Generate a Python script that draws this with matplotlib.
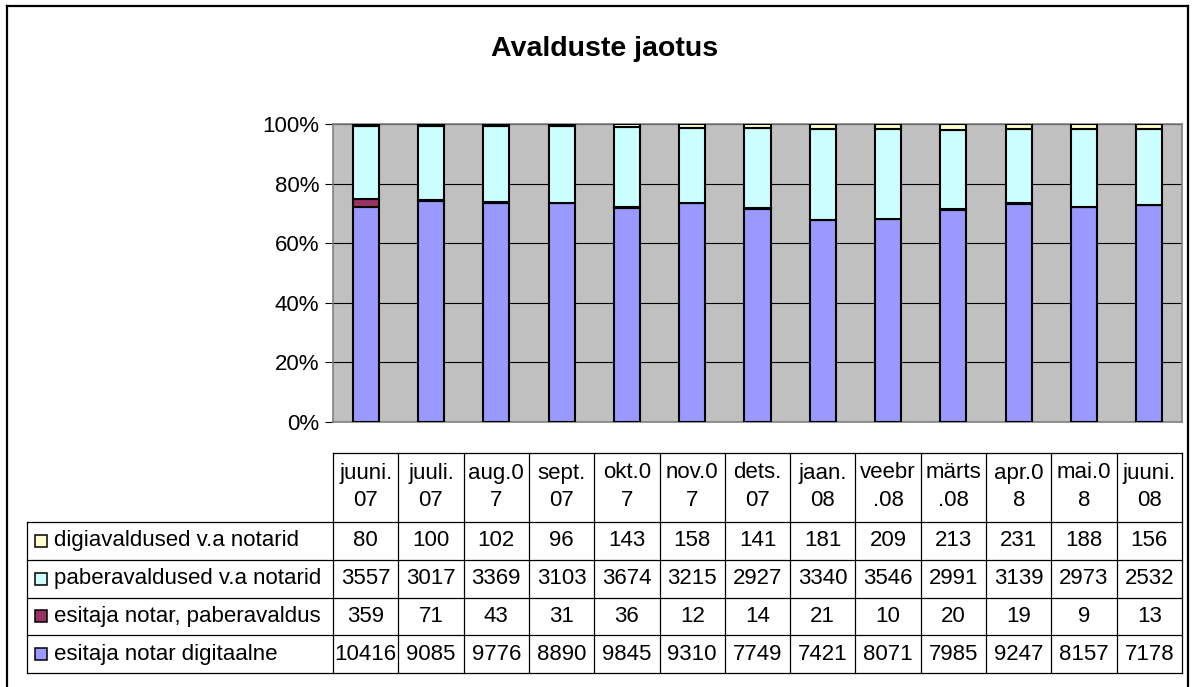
import matplotlib
matplotlib.use("Agg")
import matplotlib.pyplot as plt
from matplotlib.transforms import blended_transform_factory
from matplotlib.patches import Rectangle
import numpy as np

plt.rcParams['font.family'] = ['Liberation Sans', 'DejaVu Sans']

categories = ["juuni.\n07", "juuli.\n07", "aug.0\n7", "sept.\n07", "okt.0\n7", "nov.0\n7",
              "dets.\n07", "jaan.\n08", "veebr\n.08", "märts\n.08", "apr.0\n8", "mai.0\n8", "juuni.\n08"]

series_names = ["digiavaldused v.a notarid", "paberavaldused v.a notarid",
                "esitaja notar, paberavaldus", "esitaja notar digitaalne"]
digi = [80, 100, 102, 96, 143, 158, 141, 181, 209, 213, 231, 188, 156]
paber = [3557, 3017, 3369, 3103, 3674, 3215, 2927, 3340, 3546, 2991, 3139, 2973, 2532]
notar_paber = [359, 71, 43, 31, 36, 12, 14, 21, 10, 20, 19, 9, 13]
notar_digi = [10416, 9085, 9776, 8890, 9845, 9310, 7749, 7421, 8071, 7985, 9247, 8157, 7178]
colors = ["#FFFFCC", "#CCFFFF", "#993366", "#9999FF"]
title = "Avalduste jaotus"

W, H = 1196, 687
fig = plt.figure(figsize=(W / 100, H / 100), dpi=100)

# overlay axes in pixel coordinates
ov = fig.add_axes([0, 0, 1, 1])
ov.set_xlim(0, W)
ov.set_ylim(H, 0)
ov.axis("off")
ov.set_zorder(-1)

# plot area
L, R, T, B = 333, 1182, 124, 422
ax = fig.add_axes([L / W, 1 - B / H, (R - L) / W, (B - T) / H])
ax.set_facecolor("#C0C0C0")

series = [notar_digi, notar_paber, paber, digi]
scol = [colors[3], colors[2], colors[1], colors[0]]
arr = np.array(series, dtype=float)
tot = arr.sum(axis=0)
pct = arr / tot * 100
x = np.arange(len(categories))
bottom = np.zeros(len(categories))
for vals, c in zip(pct, scol):
    ax.bar(x, vals, 0.4, bottom=bottom, color=c, edgecolor="black", linewidth=1.5, zorder=3)
    bottom += vals

ax.set_xlim(-0.5, len(categories) - 0.5)
ax.set_ylim(0, 100)
ax.set_yticks(range(0, 101, 20))
ax.set_yticklabels([f"{v}%" for v in range(0, 101, 20)], fontsize=16)
ax.set_xticks([])
ax.yaxis.grid(True, color="black", linewidth=0.8, zorder=0)
ax.set_axisbelow(True)
ax.tick_params(axis="y", length=6, width=0.8, color="black", pad=4)
for s in ["top", "right", "bottom", "left"]:
    ax.spines[s].set_color("#808080")
    ax.spines[s].set_linewidth(1.2)

# title
ov.text(605, 49, title, ha="center", va="center", fontsize=20.5, fontweight="bold")

# outer border
ov.plot([7, 7], [6, H + 5], color="black", lw=1.6)
ov.plot([7, 1188], [6, 6], color="black", lw=1.6)
ov.plot([1188, 1188], [6, H + 5], color="black", lw=1.6)

# data table
tr = blended_transform_factory(ax.transData, ov.transData)
n = len(categories)
hdr_top = 453
row_lines = list(np.linspace(522, 673, 5))
lc = "black"
lw = 0.9
for i in range(n + 1):
    ov.plot([i - 0.5, i - 0.5], [hdr_top, row_lines[-1]], transform=tr, color=lc, lw=lw)
ov.plot([-0.5, n - 0.5], [hdr_top, hdr_top], transform=tr, color=lc, lw=lw)
for yl in row_lines:
    ov.plot([27, L], [yl, yl], color=lc, lw=lw)
    ov.plot([-0.5, n - 0.5], [yl, yl], transform=tr, color=lc, lw=lw)
ov.plot([27, 27], [row_lines[0], row_lines[-1]], color=lc, lw=lw)

fs = 16
for i, cat in enumerate(categories):
    l1, l2 = cat.split("\n")
    ov.text(i, 473, l1, transform=tr, ha="center", va="center", fontsize=fs)
    ov.text(i, 500, l2, transform=tr, ha="center", va="center", fontsize=fs)

table_rows = [digi, paber, notar_paber, notar_digi]
for r, (name, vals, c) in enumerate(zip(series_names, table_rows, colors)):
    yc = (row_lines[r] + row_lines[r + 1]) / 2
    ov.add_patch(Rectangle((35, yc - 6), 12, 12, facecolor=c, edgecolor="black", lw=1.1))
    ov.text(54, yc, name, ha="left", va="center", fontsize=fs)
    for i, v in enumerate(vals):
        ov.text(i, yc, str(v), transform=tr, ha="center", va="center", fontsize=fs)

fig.savefig("out.png", dpi=100)
